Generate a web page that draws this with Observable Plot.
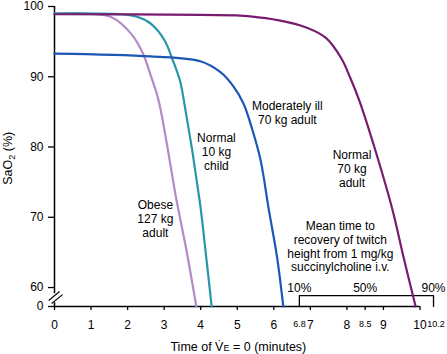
<!DOCTYPE html>
<html><head><meta charset="utf-8">
<script src="https://cdn.jsdelivr.net/npm/d3@7"></script>
<script src="https://cdn.jsdelivr.net/npm/@observablehq/plot@0.6"></script>
<style>body{margin:0;background:#fff}#chart svg{display:block}</style>
</head><body><div id="chart"></div>
<script>
// value of the broken baseline (labelled "0")
const Y_BOTTOM = 57.3;

// Series (time in minutes, SaO2 %)
const obeseT = [0, 0.9, 1.55, 2.10, 2.42, 2.65, 2.85, 3.34, 3.61, 3.88];
const obeseS = [99, 99, 98.5, 96.1, 93.3, 89.9, 86.6, 72.4, 65.3, 57.3];
const childT = [0, 1.0, 1.82, 2.28, 2.65, 3.01, 3.24, 3.43, 3.54, 3.97, 4.13, 4.30];
const childS = [99, 99, 98.9, 98.5, 97.5, 95.2, 92.3, 89.5, 86.6, 72.4, 65.3, 57.3];
const illT = [0, 2.63, 3.99, 4.54, 4.90, 5.17, 5.42, 5.64, 5.86, 6.09, 6.26];
const illS = [93.3, 92.9, 92.2, 90.65, 88.6, 86.2, 82.35, 78.1, 71.2, 64.3, 57.3];
const adultT = [0, 4.0, 5.36, 6.73, 7.41, 7.85, 8.10, 8.34, 8.78, 9.25, 9.55, 9.88];
const adultS = [98.9, 98.8, 98.6, 97.3, 95.6, 92.6, 89.75, 86.6, 79.5, 71.0, 64.3, 57.3];

const seriesNames = ["Obese\n127 kg\nadult", "Normal\n10 kg\nchild", "Moderately ill\n70 kg adult", "Normal\n70 kg\nadult"];
const seriesColors = ["#b48ac6", "#2597a7", "#1c57b4", "#781c6e"];
const labelT = [2.76, 4.43, 6.37, 8.14];
const labelS = [69.8, 79.3, 84.95, 76.9];

const xTicks = [0, 1, 2, 3, 4, 5, 6, 7, 8, 9, 10];
const xMinorTicks = [8.5];
const yTicks = [60, 70, 80, 90, 100];

// recovery bracket (schematic positions) and labels
const recoveryPos = [6.7, 8.5, 10.37];
const recoveryPct = ["10%", "50%", "90%"];
const recoveryTime = ["6.8", "8.5", "10.2"];
const bracketLevel = 58.85;
const noteT = 7.82, noteS = 65.85;
const noteText = "Mean time to\nrecovery of twitch\nheight from 1 mg/kg\nsuccinylcholine i.v.";

// axis break marks
const breakX1 = [-0.16, -0.08], breakY1 = [58.15, 57.72];
const breakX2 = [0.14, 0.22], breakY2 = [59.43, 59.0];

const tables = [[obeseT, obeseS], [childT, childS], [illT, illS], [adultT, adultS]];
const rows = tables.flatMap(([T, S], i) => T.map((t, j) => ({t, s: S[j], k: i})));
const labels = seriesNames.map((n, i) => ({n, t: labelT[i], s: labelS[i]}));
const breaks = breakX1.map((x, i) => ({x1: x, y1: breakY1[i], x2: breakX2[i], y2: breakY2[i]}));
const bracket = [[recoveryPos[0], Y_BOTTOM], [recoveryPos[0], bracketLevel], [recoveryPos[2], bracketLevel], [recoveryPos[2], Y_BOTTOM]];

const plot = Plot.plot({
  width: 447, height: 354,
  marginLeft: 54, marginRight: 27.5, marginTop: 6, marginBottom: 48,
  x: {domain: [0, 10]},
  y: {domain: [Y_BOTTOM, 100]},
  color: {domain: [0,1,2,3], range: seriesColors},
  style: {fontFamily: "'Liberation Sans', Arial, Helvetica, sans-serif", fontSize: "12px", color: "#000", background: "#fff", overflow: "visible"},
  marks: [
    Plot.axisY([Y_BOTTOM, ...yTicks], {tickSize: 6, tickPadding: 5, strokeWidth: 1.3, fontSize: 12, label: null,
      tickFormat: d => d === Y_BOTTOM ? "0" : String(d)}),
    Plot.axisX([...xTicks, ...xMinorTicks], {tickSize: 4, tickPadding: 10, strokeWidth: 1.3, fontSize: 12, label: null,
      tickFormat: d => Number.isInteger(d) ? String(d) : ""}),
    Plot.ruleY([Y_BOTTOM], {x1: 0, x2: 10, strokeWidth: 1.5}),
    Plot.ruleX([0], {y1: 59.1, y2: 100, strokeWidth: 1.5}),
    Plot.ruleX([0], {y1: Y_BOTTOM, y2: 57.85, strokeWidth: 1.5}),
    Plot.link(breaks, {x1: "x1", y1: "y1", x2: "x2", y2: "y2", strokeWidth: 1.1}),
    Plot.line(bracket, {strokeWidth: 1.3}),
    Plot.text(recoveryPct, {x: (d, i) => recoveryPos[i], y: () => Y_BOTTOM, text: d => d, dy: -18.5, fontSize: 12}),
    Plot.text(recoveryTime, {x: (d, i) => recoveryPos[i], y: () => Y_BOTTOM, text: d => d, dy: 20, lineAnchor: "bottom", fontSize: 9}),
    Plot.line(rows, {x: "t", y: "s", z: "k", stroke: "k", strokeWidth: 2.2, curve: "catmull-rom"}),
    Plot.text(labels, {x: "t", y: "s", text: "n", lineHeight: 1.17, fontSize: 12}),
    Plot.text([noteText], {x: () => noteT, y: () => noteS, text: d => d, lineHeight: 1.14, fontSize: 12}),
    Plot.text(["Time of V\u0307E = 0 (minutes)"], {x: () => 5.03, y: () => Y_BOTTOM, text: d => d, dy: 40, fontSize: 12.5}),
    Plot.text(["SaO2 (%)"], {x: () => -1.27, y: () => 78.4, text: d => d, rotate: -90, fontSize: 12.5})
  ]
});
document.getElementById("chart").appendChild(plot);

// subscript / small-cap styling, and nudge the crowded "10.2" label
d3.select(plot).selectAll("text").each(function() {
  const el = d3.select(this);
  const s = this.textContent;
  if (s === "SaO2 (%)") {
    el.text(null);
    el.append("tspan").text("SaO");
    el.append("tspan").attr("font-size", 9).attr("dy", 3).text("2");
    el.append("tspan").attr("dy", -3).text(" (%)");
  } else if (s === "Time of V\u0307E = 0 (minutes)") {
    el.text(null);
    el.append("tspan").text("Time of V\u0307");
    el.append("tspan").attr("font-size", 9).text("E");
    el.append("tspan").text(" = 0 (minutes)");
  } else if (s === "10.2") {
    el.attr("dx", 2.5);
  }
});
</script></body></html>
